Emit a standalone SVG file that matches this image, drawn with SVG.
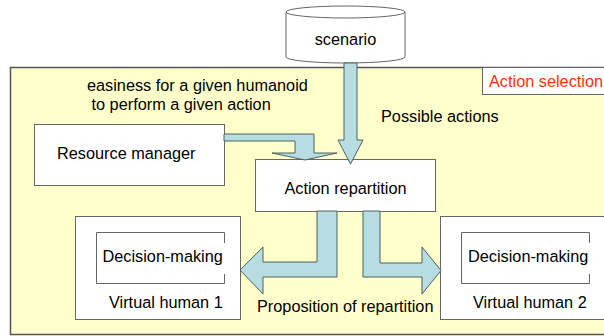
<svg xmlns="http://www.w3.org/2000/svg" width="604" height="336" viewBox="0 0 604 336">
<style>
text{font-family:"Liberation Sans",Arial,sans-serif;font-size:16.3px;fill:#000}
.box{fill:#fff;stroke:#666;stroke-width:1}
.arr{fill:#B7DDE3;stroke:#4d6060;stroke-width:1}
.mid{text-anchor:middle}
</style>
<rect x="10.5" y="67.5" width="600" height="267" fill="#FFFFCC" stroke="#555" stroke-width="1.5"/>
<g id="action-selection">
<rect class="box" x="482.5" y="67.5" width="130" height="27" stroke="#888"/>
<text x="489" y="87" style="fill:#FF3300">Action selection</text>
</g>
<g id="labels">
<text x="87" y="91">easiness for a given humanoid</text>
<text x="91.5" y="110">to perform a given action</text>
<text x="381" y="122">Possible actions</text>
<text x="257" y="312">Proposition of repartition</text>
</g>
<g id="scenario">
<path class="box" d="M286,12 V57 A59.5,6 0 0 0 405,57 V12"/>
<ellipse class="box" cx="345.5" cy="12" rx="59.5" ry="6"/>
<text class="mid" x="345.5" y="45">scenario</text>
</g>
<g id="resource-manager">
<rect class="box" x="34.5" y="124.5" width="190" height="61"/>
<text x="57" y="159">Resource manager</text>
</g>
<g id="action-repartition">
<rect class="box" x="255.5" y="159.5" width="180" height="52"/>
<text class="mid" x="345.5" y="194">Action repartition</text>
</g>
<g id="virtual-human-1">
<rect class="box" x="75.5" y="216.5" width="165" height="103"/>
<path d="M224.5,243 V232.5 H96.5 V283.5 H224.5 V274" fill="none" stroke="#666"/>
<text x="102.5" y="262">Decision-making</text>
<text x="109" y="308">Virtual human 1</text>
</g>
<g id="virtual-human-2">
<rect class="box" x="440.5" y="216.5" width="170" height="103"/>
<path d="M589.5,243 V232.5 H461.5 V283.5 H589.5 V274" fill="none" stroke="#666"/>
<text x="468" y="262">Decision-making</text>
<text x="473" y="308">Virtual human 2</text>
</g>
<g id="connectors">
<polygon class="arr" points="344,63 357,63 357,140 363,140 350.5,164 338,140 344,140"/>
<polygon class="arr" points="224,134 314,134 314,153 337,153 305,160 272,153 295,153 295,141 224,141"/>
<polygon class="arr" points="317,211 337,211 337,277 263,277 263,294 240,270 263,247 263,262 317,262"/>
<polygon class="arr" points="363,211 380,211 380,263 422,263 422,247 441,270.5 422,294 422,277 363,277"/>
</g>
</svg>
